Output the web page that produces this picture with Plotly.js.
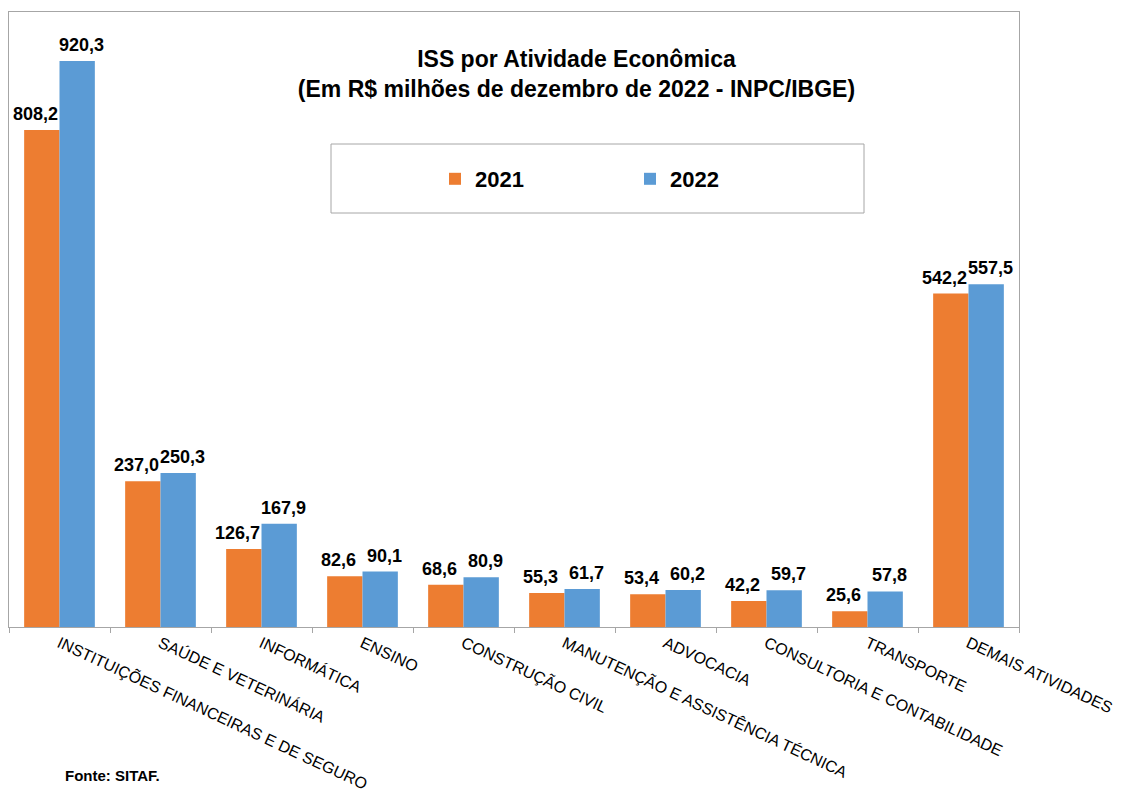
<!DOCTYPE html>
<html>
<head>
<meta charset="utf-8">
<script src="https://cdn.plot.ly/plotly-3.0.1.min.js"></script>
<style>html,body{margin:0;padding:0;background:#fff;}#chart{width:1126px;height:794px;}</style>
</head>
<body>
<div id="chart"></div>
<script>
const categories = [
  "INSTITUIÇÕES FINANCEIRAS E DE SEGURO",
  "SAÚDE E VETERINÁRIA",
  "INFORMÁTICA",
  "ENSINO",
  "CONSTRUÇÃO CIVIL",
  "MANUTENÇÃO E ASSISTÊNCIA TÉCNICA",
  "ADVOCACIA",
  "CONSULTORIA E CONTABILIDADE",
  "TRANSPORTE",
  "DEMAIS ATIVIDADES"
];
const values2021 = [808.2, 237.0, 126.7, 82.6, 68.6, 55.3, 53.4, 42.2, 25.6, 542.2];
const values2022 = [920.3, 250.3, 167.9, 90.1, 80.9, 61.7, 60.2, 59.7, 57.8, 557.5];
const seriesNames = ["2021", "2022"];

const FONT = "Liberation Sans, Arial, sans-serif";
const W = 1126, H = 794;
const L = 9, R = 107, T = 12, B = 167;
const pw = W - L - R, ph = H - T - B;
function px2x(p){ return (p - L) / pw; }
function py2y(p){ return (H - B - p) / ph; }

const BARGAP = 0.3;
const halfBar = (1 - BARGAP) / 4; // offset of each bar centre from category centre

const traces = [
  {
    type: "bar", name: seriesNames[0], x: categories, y: values2021,
    marker: {color: "#ED7D31"}, hoverinfo: "x+y"
  },
  {
    type: "bar", name: seriesNames[1], x: categories, y: values2022,
    marker: {color: "#5B9BD5"}, hoverinfo: "x+y"
  }
];

function fmt(v){ return v.toFixed(1).replace(".", ","); }
const labelFont = {family: FONT, size: 18, weight: "bold", color: "#000"};
const valueLabels = [];
categories.forEach(function(c, i){
  valueLabels.push({
    xref: "x", yref: "y", x: i - halfBar, y: values2021[i],
    text: fmt(values2021[i]), showarrow: false,
    xanchor: "center", yanchor: "bottom", xshift: -6, yshift: 4,
    font: labelFont
  });
  valueLabels.push({
    xref: "x", yref: "y", x: i + halfBar, y: values2022[i],
    text: fmt(values2022[i]), showarrow: false,
    xanchor: "center", yanchor: "bottom", xshift: 4, yshift: 4,
    font: labelFont
  });
});

const layout = {
  width: W, height: H,
  margin: {l: L, r: R, t: T, b: B, pad: 0},
  paper_bgcolor: "#fff", plot_bgcolor: "#fff",
  separators: ",.",
  barmode: "group",
  bargap: BARGAP,
  bargroupgap: 0,
  font: {family: FONT, color: "#000"},
  title: {
    text: "ISS por Atividade Econômica<br>(Em R$ milhões de dezembro de 2022 - INPC/IBGE)",
    font: {family: FONT, size: 23, weight: "bold", color: "#000"},
    xref: "container", yref: "container",
    x: 576.5 / W, xanchor: "center",
    y: 1 - 67 / H, yanchor: "top"
  },
  xaxis: {
    type: "category",
    showline: true, linecolor: "#A6A6A6", linewidth: 1, mirror: true,
    ticks: "outside", tickson: "boundaries", ticklen: 5, tickcolor: "#A6A6A6",
    tickangle: 25,
    tickfont: {family: FONT, size: 16, color: "#000"},
    showgrid: false, zeroline: false, fixedrange: true
  },
  yaxis: {
    range: [0, 1000],
    showline: true, linecolor: "#A6A6A6", linewidth: 1, mirror: true,
    showticklabels: false, ticks: "", showgrid: false, zeroline: false, fixedrange: true
  },
  showlegend: true,
  legend: {
    orientation: "h",
    xref: "paper", yref: "paper",
    x: px2x(435), xanchor: "left",
    y: py2y(179), yanchor: "middle",
    bgcolor: "rgba(0,0,0,0)", borderwidth: 0,
    font: {family: FONT, size: 22, weight: "bold", color: "#000"},
    itemwidth: 30,
    entrywidth: 150, entrywidthmode: "pixels",
    traceorder: "normal"
  },
  shapes: [
    {
      type: "rect", xref: "paper", yref: "paper",
      x0: px2x(331), x1: px2x(864), y0: py2y(144), y1: py2y(213),
      line: {color: "#A6A6A6", width: 1}, fillcolor: "rgba(0,0,0,0)", layer: "below"
    }
  ],
  annotations: valueLabels.concat([
    {
      text: "Fonte: SITAF.", xref: "paper", yref: "paper",
      x: px2x(63), xanchor: "left", y: py2y(775), yanchor: "middle",
      showarrow: false,
      font: {family: FONT, size: 15, weight: "bold", color: "#000"}
    }
  ])
};

Plotly.newPlot("chart", traces, layout, {displayModeBar: false, staticPlot: true});
</script>
</body>
</html>
